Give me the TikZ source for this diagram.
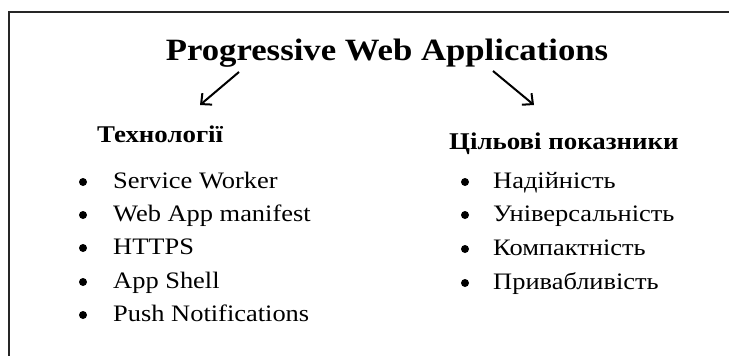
\documentclass[tikz,border=0pt]{standalone}
\usepackage{fontspec}
\setmainfont{Liberation Serif}[FakeStretch=1.12]
\usetikzlibrary{arrows.meta}
\tikzset{
  frameline/.style={line width=2pt, black!85},
  titletext/.style={font=\fontsize{31}{36}\selectfont\bfseries, inner sep=0pt, anchor=base},
  headtext/.style={font=\fontsize{24}{28}\selectfont\bfseries, inner sep=0pt, anchor=base west},
  itemtext/.style={font=\fontsize{23.6}{28}\selectfont, inner sep=0pt, anchor=base west},
  bulletdot/.style={circle, fill=black, inner sep=0pt, minimum size=8pt},
  arrowline/.style={line width=2pt, -{Straight Barb[length=8pt,width=15pt,line width=2pt]}}
}
\begin{document}
\begin{tikzpicture}[x=1pt,y=-1pt]
\useasboundingbox (0,0) rectangle (729,356);
\draw[frameline] (9,356) -- (9,12) -- (729,12);
\node[titletext] (title) at (387,60) {Progressive Web Applications};
\coordinate (la1) at (239,72);
\coordinate (la2) at (200,105);
\coordinate (ra1) at (493,71);
\coordinate (ra2) at (534,105);
\draw[arrowline] (la1) -- (la2);
\draw[arrowline] (ra1) -- (ra2);
\node[headtext] (lh) at (97,142) {Технології};
\node[headtext] (rh) at (449,149) {Цільові показники};
% left list
\node[bulletdot] (lb1) at (83,182) {};
\node[bulletdot] (lb2) at (83,215) {};
\node[bulletdot] (lb3) at (83,248) {};
\node[bulletdot] (lb4) at (83,282) {};
\node[bulletdot] (lb5) at (83,315) {};
\node[itemtext] (li1) at (113,188) {Service Worker};
\node[itemtext] (li2) at (113,221) {Web App manifest};
\node[itemtext] (li3) at (113,254) {HTTPS};
\node[itemtext] (li4) at (113,288) {App Shell};
\node[itemtext] (li5) at (113,321) {Push Notifications};
% right list
\node[bulletdot] (rb1) at (465,182) {};
\node[bulletdot] (rb2) at (465,215) {};
\node[bulletdot] (rb3) at (465,249) {};
\node[bulletdot] (rb4) at (465,283) {};
\node[itemtext] (ri1) at (493,188) {Надійність};
\node[itemtext] (ri2) at (493,221) {Універсальність};
\node[itemtext] (ri3) at (493,255) {Компактність};
\node[itemtext] (ri4) at (493,289) {Привабливість};
\end{tikzpicture}
\end{document}
